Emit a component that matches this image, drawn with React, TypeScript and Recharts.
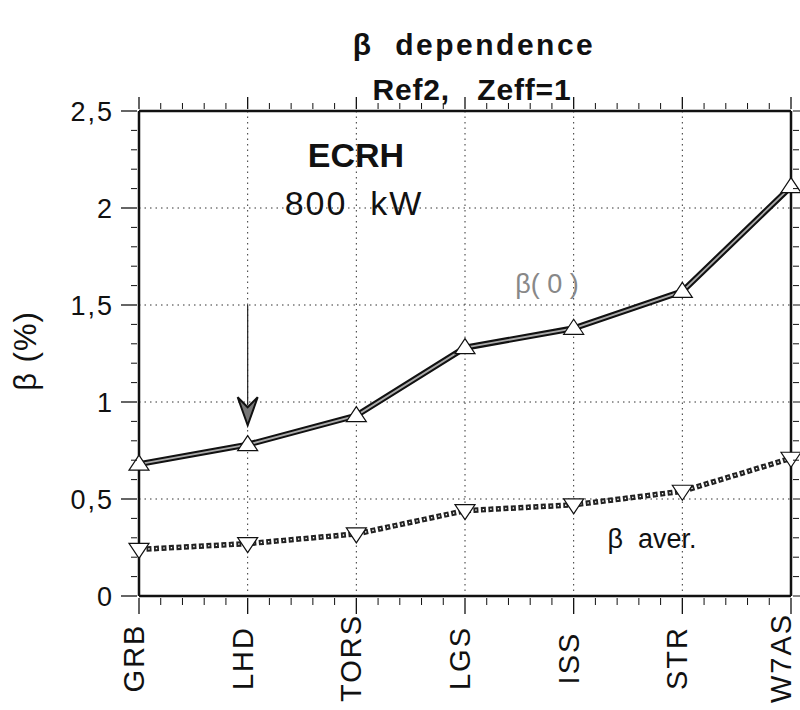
import React from "react"
import {
  LineChart,
  Line,
  XAxis,
  YAxis,
  CartesianGrid,
  ReferenceLine,
  Customized
} from "recharts"

const categories = ["GRB", "LHD", "TORS", "LGS", "ISS", "STR", "W7AS"]
const betaCentral = [0.68, 0.78, 0.93, 1.28, 1.38, 1.57, 2.11]
const betaAverage = [0.24, 0.27, 0.32, 0.44, 0.47, 0.54, 0.71]
const yTicks = [0, 0.5, 1, 1.5, 2, 2.5]

const FONT = "'Liberation Sans', Arial, Helvetica, sans-serif"
const PRE = { whiteSpace: "pre" as const }

const data = categories.map((name, i) => ({
  idx: i,
  name,
  beta0: betaCentral[i],
  betaAvg: betaAverage[i]
}))

const majorX = categories.map((_, i) => i)
// five minor steps between neighbouring stations, 0.1 steps on beta
const minorX = Array.from({ length: 31 }, (_, i) => i / 5)
const minorY = Array.from({ length: 26 }, (_, i) => i / 10)

const isMajorX = (v: number) => Math.abs(v - Math.round(v)) < 1e-6
const isMajorY = (v: number) => Math.abs(v * 2 - Math.round(v * 2)) < 1e-6

const UpTriangle = (props: any) => {
  const { cx, cy } = props
  if (cx == null || cy == null) return null
  return (
    <polygon
      points={`${cx},${cy - 9} ${cx - 10},${cy + 6} ${cx + 10},${cy + 6}`}
      fill="#fff"
      stroke="#111"
      strokeWidth={1.2}
    />
  )
}

const DownTriangle = (props: any) => {
  const { cx, cy } = props
  if (cx == null || cy == null) return null
  return (
    <polygon
      points={`${cx},${cy + 9} ${cx - 10},${cy - 6} ${cx + 10},${cy - 6}`}
      fill="#fff"
      stroke="#111"
      strokeWidth={1.2}
    />
  )
}

// bottom axis: tick marks plus station names standing on end
const BottomTick = (props: any) => {
  const { x, y, payload } = props
  const major = isMajorX(payload.value)
  const tx = Math.min(x + 5, 791)
  const ty = y + 60
  return (
    <g>
      <line x1={x} y1={y} x2={x} y2={y + (major ? 16 : 7)} stroke="#111" strokeWidth={major ? 1.3 : 1} />
      {major && (
        <text
          x={tx}
          y={ty}
          transform={`rotate(-90 ${tx} ${ty})`}
          textAnchor="middle"
          fontFamily={FONT}
          fontSize={29}
          letterSpacing={2}
          fill="#111"
        >
          {categories[Math.round(payload.value)]}
        </text>
      )}
    </g>
  )
}

const TopTick = (props: any) => {
  const { x, y, payload } = props
  const major = isMajorX(payload.value)
  return <line x1={x} y1={y} x2={x} y2={y - (major ? 12 : 6)} stroke="#111" strokeWidth={major ? 1.3 : 1} />
}

const LeftTick = (props: any) => {
  const { x, y, payload } = props
  const major = isMajorY(payload.value)
  return (
    <g>
      <line x1={x} y1={y} x2={x - (major ? 16 : 6)} y2={y} stroke="#111" strokeWidth={major ? 1.3 : 1} />
      {major && (
        <text
          x={x - 23}
          y={y + 10}
          textAnchor="end"
          fontFamily={FONT}
          fontSize={27}
          fill="#111"
          letterSpacing={2}
        >
          {String(Math.round(payload.value * 10) / 10).replace(".", ",")}
        </text>
      )}
    </g>
  )
}

const RightTick = (props: any) => {
  const { x, y, payload } = props
  const major = isMajorY(payload.value)
  return <line x1={x} y1={y} x2={x + (major ? 8 : 6)} y2={y} stroke="#111" strokeWidth={1} />
}

const ArrowShape = (props: any) => {
  const { x1, y1, x2, y2 } = props
  if (x1 == null) return null
  return (
    <g>
      <line x1={x1} y1={y1} x2={x2} y2={y2 - 20} stroke="#222" strokeWidth={1.2} />
      <polygon
        points={`${x2},${y2} ${x2 - 10},${y2 - 28} ${x2},${y2 - 18} ${x2 + 10},${y2 - 28}`}
        fill="#777"
        stroke="#111"
        strokeWidth={2}
      />
    </g>
  )
}

const Annotations = () => (
  <g fontFamily={FONT} fill="#111">
    <text x={474} y={55} textAnchor="middle" fontSize={30} fontWeight="bold" letterSpacing={2.5} style={PRE}>
      β  dependence
    </text>
    <text x={472} y={100} textAnchor="middle" fontSize={30} fontWeight="bold" letterSpacing={0.8} style={PRE}>
      Ref2,   Zeff=1
    </text>
    <text x={36} y={351} transform="rotate(-90 36 351)" textAnchor="middle" fontSize={31} letterSpacing={1} style={PRE}>
      β (%)
    </text>
    <text x={356} y={167} textAnchor="middle" fontSize={34} fontWeight="bold">
      ECRH
    </text>
    <text x={354} y={215} textAnchor="middle" fontSize={34} letterSpacing={2} style={PRE}>
      800  kW
    </text>
    <text x={547} y={293} textAnchor="middle" fontSize={27} fill="#888" style={PRE}>
      β( 0 )
    </text>
    <text x={652} y={548} textAnchor="middle" fontSize={27} style={PRE}>
      β  aver.
    </text>
  </g>
)

const frame = { stroke: "#111", strokeWidth: 2.5 }

export default function App() {
  return (
    <div style={{ position: "absolute", left: 0, top: 0, background: "#fff" }}>
      <LineChart
        width={800}
        height={710}
        data={data}
        margin={{ top: 91, right: 0, bottom: 10, left: 79 }}
      >
        <CartesianGrid
          stroke="#333"
          strokeDasharray="1.5 4"
          strokeWidth={1}
          horizontalValues={yTicks}
          verticalValues={majorX}
        />

        <XAxis
          dataKey="idx"
          type="number"
          domain={[0, 6]}
          ticks={minorX}
          height={104}
          tickSize={0}
          tickLine={false}
          tick={BottomTick}
          axisLine={frame}
          interval={0}
        />
        <XAxis
          xAxisId="top"
          orientation="top"
          type="number"
          domain={[0, 6]}
          ticks={minorX}
          allowDataOverflow
          height={20}
          tickSize={0}
          tickLine={false}
          tick={TopTick}
          axisLine={frame}
          interval={0}
        />

        <YAxis
          type="number"
          domain={[0, 2.5]}
          ticks={minorY}
          width={60}
          tickSize={0}
          tickLine={false}
          tick={LeftTick}
          axisLine={frame}
          interval={0}
        />
        <YAxis
          yAxisId="right"
          orientation="right"
          type="number"
          domain={[0, 2.5]}
          ticks={minorY}
          allowDataOverflow
          width={9}
          tickSize={0}
          tickLine={false}
          tick={RightTick}
          axisLine={frame}
          interval={0}
        />

        <ReferenceLine
          segment={[
            { x: 1, y: 1.5 },
            { x: 1, y: 0.88 }
          ]}
          shape={<ArrowShape />}
        />

        {/* beta(0): dark outer stroke with a light core */}
        <Line
          dataKey="beta0"
          stroke="#111"
          strokeWidth={6}
          dot={false}
          activeDot={false}
          isAnimationActive={false}
        />
        <Line
          dataKey="beta0"
          stroke="#aaa"
          strokeWidth={1.8}
          dot={<UpTriangle />}
          activeDot={false}
          isAnimationActive={false}
        />

        {/* averaged beta: chain of small hollow squares */}
        <Line
          dataKey="betaAvg"
          stroke="#222"
          strokeWidth={5.5}
          strokeDasharray="5 2.5"
          dot={false}
          activeDot={false}
          isAnimationActive={false}
        />
        <Line
          dataKey="betaAvg"
          stroke="#fff"
          strokeWidth={1.4}
          strokeDasharray="0 1.8 1.4 4.3"
          dot={<DownTriangle />}
          activeDot={false}
          isAnimationActive={false}
        />

        <Customized component={Annotations} />
      </LineChart>
    </div>
  )
}
